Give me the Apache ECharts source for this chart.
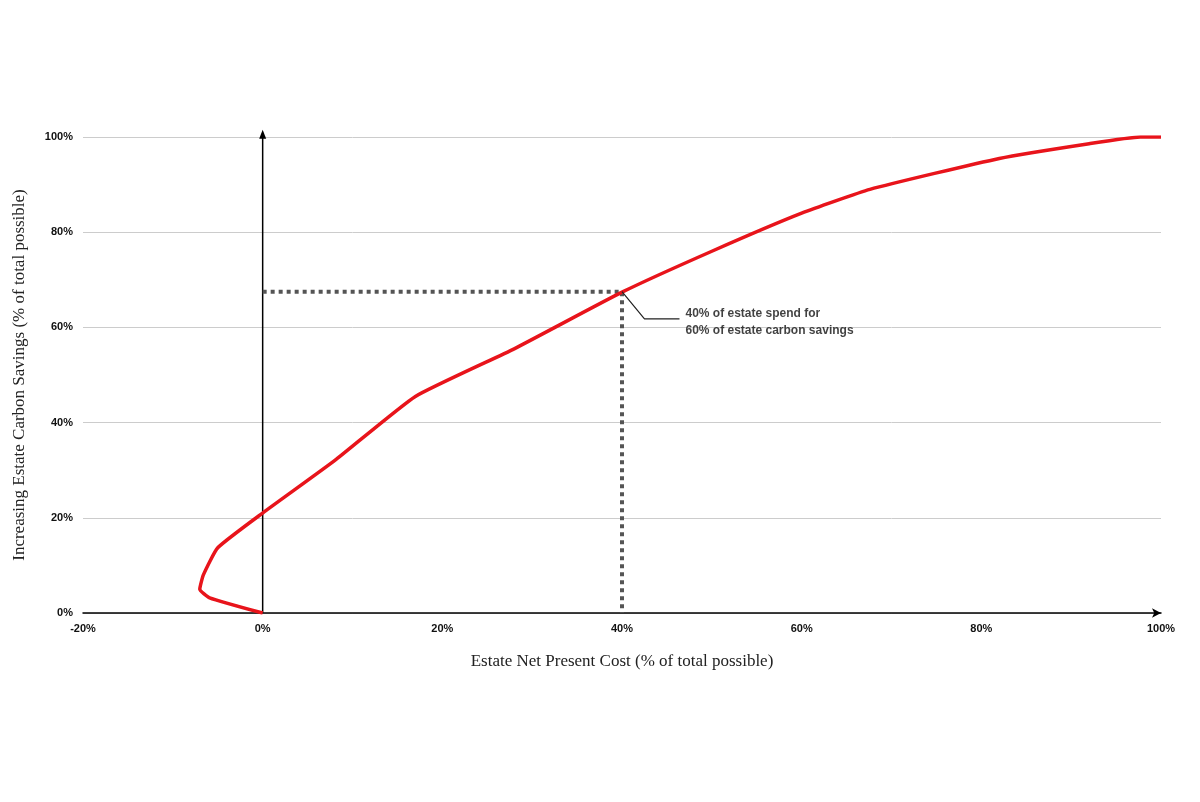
<!DOCTYPE html>
<html><head><meta charset="utf-8">
<script src="https://cdn.jsdelivr.net/npm/echarts@6/dist/echarts.min.js"></script>
<style>html,body{margin:0;background:#fff}#c{width:1200px;height:802px}</style>
</head><body><div id="c"></div>
<script>
const curveX = [0, -5.9, -7, -6.6, -5, 0, 8, 17, 28, 40, 50, 60, 67.6, 82, 92, 97.7, 100];
const curveY = [0, 3.2, 5, 8, 13.7, 21, 32, 45.5, 55.5, 67.4, 76, 84, 89, 95.5, 98.6, 100, 100];
const xTicks = [-20, 0, 20, 40, 60, 80, 100];
const yTicks = [0, 20, 40, 60, 80, 100];
const target = [40, 67.5];
const leaderX = [40, 42.5, 46.4];
const leaderY = [67.5, 61.8, 61.8];
const noteText = '40% of estate spend for\n60% of estate carbon savings';

const chart = echarts.init(document.getElementById('c'));
chart.setOption({
  animation: false,
  grid: {left: 83, right: 39, top: 137, bottom: 189},
  xAxis: {
    type: 'value', min: xTicks[0], max: xTicks[xTicks.length-1], interval: 20,
    name: 'Estate Net Present Cost (% of total possible)', nameLocation: 'middle', nameGap: 40,
    nameTextStyle: {fontFamily: 'Liberation Serif', fontSize: 17, color: '#222'},
    axisLine: {lineStyle: {color: '#000', width: 1.5}, symbol: ['none', 'arrow'], symbolSize: [7, 9]},
    axisTick: {show: false}, splitLine: {show: false},
    axisLabel: {formatter: '{value}%', fontFamily: 'Liberation Sans', fontWeight: 'bold', fontSize: 11, color: '#111', margin: 10}
  },
  yAxis: {
    type: 'value', min: 0, max: 100, interval: 20,
    name: 'Increasing Estate Carbon Savings (% of total possible)', nameLocation: 'middle', nameGap: 55,
    nameTextStyle: {fontFamily: 'Liberation Serif', fontSize: 17, color: '#222'},
    axisLine: {show: false}, axisTick: {show: false},
    splitLine: {lineStyle: {color: '#ccc', width: 1}},
    axisLabel: {formatter: '{value}%', fontFamily: 'Liberation Sans', fontWeight: 'bold', fontSize: 11, color: '#111', margin: 10}
  },
  series: [
    {type: 'line', clip: false, data: [[0,0], {value: [0,100.6], symbol: 'triangle', symbolSize: [7, 9]}],
     symbol: 'none', lineStyle: {color: '#000', width: 1.5}, itemStyle: {color: '#000'}, z: 1},
    {type: 'line', data: [[0, target[1]], target, [target[0], 0]], symbol: 'none',
     lineStyle: {color: '#555', width: 4, type: [4, 4]}},
    {type: 'line', data: curveX.map((x,i)=>[x, curveY[i]]), smooth: 0.15, symbol: 'none',
     lineStyle: {color: '#e8141b', width: 3.5}, z: 3},
    {type: 'line', data: leaderX.map((x,i)=>[x, leaderY[i]]), symbol: 'none',
     lineStyle: {color: '#222', width: 1.2}},
    {type: 'scatter', data: [[leaderX[2], 61.2]], symbolSize: 0,
     label: {show: true, position: 'right', distance: 6, formatter: noteText, align: 'left',
       fontFamily: 'Liberation Sans', fontWeight: 'bold', fontSize: 12, lineHeight: 17, color: '#111'}}
  ]
});
</script></body></html>
